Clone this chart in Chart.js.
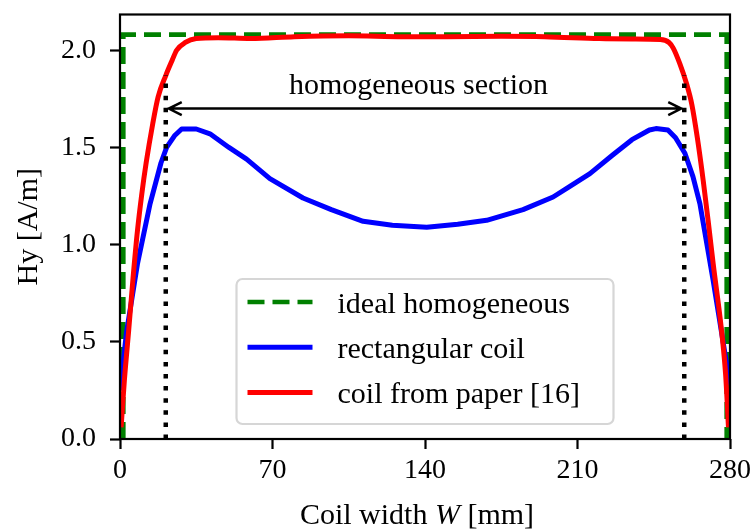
<!DOCTYPE html>
<html>
<head>
<meta charset="utf-8">
<script src="https://cdn.jsdelivr.net/npm/chart.js@4"></script>
<style>
  html, body { margin: 0; padding: 0; background: #fff; }
  #wrap { width: 751px; height: 532px; }
</style>
</head>
<body>
<div id="wrap"><canvas id="fieldChart" width="751" height="532"></canvas></div>
<script>
// values (x in mm, Hy in A/m)
const idealX = [1.5, 1.5, 278.5, 278.5];
const idealY = [0, 2.08, 2.08, 0];

const rectX = [0, 3, 8, 13.8, 18.8, 21.4, 25, 28.3, 35, 41.3, 50, 58.1, 68.8, 84, 97, 111.6, 125, 140.8, 155, 168.3, 185, 198.8, 206.5, 215.7, 226, 235, 243, 246, 251.5, 255, 259.3, 263, 266.2, 272.2, 278.4, 280];
const rectY = [0.25, 0.55, 0.9, 1.21, 1.42, 1.5, 1.56, 1.595, 1.595, 1.57, 1.5, 1.44, 1.34, 1.24, 1.18, 1.12, 1.1, 1.09, 1.105, 1.125, 1.18, 1.245, 1.3, 1.365, 1.46, 1.54, 1.59, 1.597, 1.59, 1.55, 1.47, 1.35, 1.21, 0.82, 0.39, 0.28];

const paperX = [0.5, 2, 4, 6, 8, 10, 12, 15, 17.5, 21, 24, 26, 30, 35, 45, 60, 80, 105, 130, 150, 175, 195, 220, 235, 248, 252, 254, 257, 260, 262.5, 265, 267.7, 270, 272.3, 276.1, 278, 279.3];
const paperY = [0.06, 0.3, 0.56, 0.83, 1.07, 1.26, 1.42, 1.62, 1.76, 1.87, 1.95, 2.0, 2.04, 2.06, 2.065, 2.06, 2.07, 2.075, 2.07, 2.07, 2.072, 2.07, 2.06, 2.058, 2.055, 2.04, 2.01, 1.93, 1.83, 1.72, 1.55, 1.33, 1.12, 0.9, 0.56, 0.33, 0.06];

const sectionEdges = [21, 259];
const sectionTop = 1.87;
const arrowLevel = 1.70;
const sectionLabel = "homogeneous section";
const sectionLabelX = 137;
const sectionLabelY = 1.776;

const xTicks = [0, 70, 140, 210, 280];
const yTicks = [0, 0.5, 1.0, 1.5, 2.0];

const seriesNames = ["ideal homogeneous", "rectangular coil", "coil from paper [16]"];

const FONT = "Liberation Serif";
const TEXT_SIZE = 30;
const toPoints = (xs, ys) => xs.map((x, i) => ({ x: x, y: ys[i] }));

const frameAndNotes = {
    id: "frameAndNotes",
    afterDatasetsDraw(chart) {
        const { ctx, chartArea: area, scales: { x, y } } = chart;
        ctx.save();

        // arrow between the section edges
        const ay = y.getPixelForValue(arrowLevel);
        const x1 = x.getPixelForValue(sectionEdges[0]) + 3;
        const x2 = x.getPixelForValue(sectionEdges[1]) - 3;
        ctx.strokeStyle = "#000";
        ctx.lineWidth = 2.5;
        ctx.lineJoin = "miter";
        ctx.beginPath();
        ctx.moveTo(x1, ay);
        ctx.lineTo(x2, ay);
        ctx.moveTo(x1 + 13, ay - 6.5);
        ctx.lineTo(x1, ay);
        ctx.lineTo(x1 + 13, ay + 6.5);
        ctx.moveTo(x2 - 13, ay - 6.5);
        ctx.lineTo(x2, ay);
        ctx.lineTo(x2 - 13, ay + 6.5);
        ctx.stroke();

        ctx.fillStyle = "#000";
        ctx.font = `${TEXT_SIZE}px "${FONT}"`;
        ctx.textAlign = "center";
        ctx.textBaseline = "alphabetic";
        ctx.fillText(sectionLabel, x.getPixelForValue(sectionLabelX), y.getPixelForValue(sectionLabelY));

        // axes frame
        ctx.lineWidth = 2.2;
        ctx.strokeRect(area.left, area.top, area.right - area.left, area.bottom - area.top);
        ctx.restore();
    },
    afterDraw(chart) {
        const { ctx, chartArea: area } = chart;
        ctx.save();

        // legend, lower center
        const boxW = 377;
        const boxH = 145;
        const left = (area.left + area.right) / 2 - boxW / 2;
        const top = area.bottom - 15 - boxH;
        ctx.fillStyle = "rgba(255,255,255,0.8)";
        ctx.strokeStyle = "#d6d6d6";
        ctx.lineWidth = 2.2;
        ctx.beginPath();
        ctx.roundRect(left, top, boxW, boxH, 6);
        ctx.fill();
        ctx.stroke();

        const datasets = chart.data.datasets;
        ctx.font = `${TEXT_SIZE}px "${FONT}"`;
        ctx.textAlign = "left";
        ctx.textBaseline = "alphabetic";
        seriesNames.forEach((name, i) => {
            const ds = datasets[i];
            const rowY = top + 23 + i * 45.2;
            ctx.strokeStyle = ds.borderColor;
            ctx.lineWidth = ds.borderWidth;
            ctx.setLineDash(ds.borderDash || []);
            ctx.lineCap = "butt";
            ctx.beginPath();
            ctx.moveTo(left + 11, rowY);
            ctx.lineTo(left + 76, rowY);
            ctx.stroke();
            ctx.setLineDash([]);
            ctx.fillStyle = "#000";
            ctx.fillText(name, left + 101, rowY + 11);
        });

        // axis titles
        ctx.fillStyle = "#000";
        const midY = (area.top + area.bottom) / 2;
        ctx.save();
        ctx.translate(37, midY);
        ctx.rotate(-Math.PI / 2);
        ctx.textAlign = "center";
        ctx.fillText("Hy [A/m]", 0, 0);
        ctx.restore();

        const parts = [
            { text: "Coil width ", font: `${TEXT_SIZE}px "${FONT}"` },
            { text: "W", font: `italic ${TEXT_SIZE}px "${FONT}"` },
            { text: " [mm]", font: `${TEXT_SIZE}px "${FONT}"` }
        ];
        let total = 0;
        parts.forEach((p) => {
            ctx.font = p.font;
            p.width = ctx.measureText(p.text).width;
            total += p.width;
        });
        let tx = (area.left + area.right) / 2 - 8 - total / 2;
        parts.forEach((p) => {
            ctx.font = p.font;
            ctx.fillText(p.text, tx, 524);
            tx += p.width;
        });

        ctx.restore();
    }
};

const tickFont = { family: FONT, size: 28 };

new Chart(document.getElementById("fieldChart"), {
    type: "scatter",
    data: {
        datasets: [
            {
                label: seriesNames[0],
                data: toPoints(idealX, idealY),
                showLine: true,
                borderColor: "#008000",
                borderWidth: 4.7,
                borderDash: [17, 8],
                pointRadius: 0,
                order: 4
            },
            {
                label: seriesNames[1],
                data: toPoints(rectX, rectY),
                showLine: true,
                borderColor: "#0000ff",
                borderWidth: 5,
                borderJoinStyle: "round",
                pointRadius: 0,
                order: 3
            },
            {
                label: seriesNames[2],
                data: toPoints(paperX, paperY),
                showLine: true,
                borderColor: "#ff0000",
                borderWidth: 5,
                borderJoinStyle: "round",
                cubicInterpolationMode: "monotone",
                pointRadius: 0,
                order: 2
            },
            ...sectionEdges.map((edge) => ({
                label: "section edge",
                data: [{ x: edge, y: 0 }, { x: edge, y: sectionTop }],
                showLine: true,
                borderColor: "#000",
                borderWidth: 4.5,
                borderDash: [4.5, 7.6],
                pointRadius: 0,
                order: 1
            }))
        ]
    },
    options: {
        responsive: false,
        animation: false,
        devicePixelRatio: 1,
        layout: { padding: { left: 0, top: 14.5, right: 21, bottom: 0 } },
        plugins: {
            legend: { display: false },
            tooltip: { enabled: false }
        },
        scales: {
            x: {
                type: "linear",
                min: 0,
                max: 280,
                afterBuildTicks: (scale) => { scale.ticks = xTicks.map((v) => ({ value: v })); },
                afterFit: (scale) => {
                    scale.height = 93;
                    scale.paddingLeft = 0;
                    scale.paddingRight = 0;
                },
                border: { display: false },
                grid: { drawOnChartArea: false, drawTicks: true, tickLength: 10, tickWidth: 2.2, tickColor: "#000" },
                ticks: { font: tickFont, color: "#000", padding: 5, maxRotation: 0, autoSkip: false, callback: (v) => String(v) }
            },
            y: {
                type: "linear",
                min: 0,
                max: 2.184,
                afterBuildTicks: (scale) => { scale.ticks = yTicks.map((v) => ({ value: v })); },
                afterFit: (scale) => {
                    scale.width = 120;
                    scale.paddingTop = 0;
                    scale.paddingBottom = 0;
                },
                border: { display: false },
                grid: { drawOnChartArea: false, drawTicks: true, tickLength: 10, tickWidth: 2.2, tickColor: "#000" },
                ticks: { font: tickFont, color: "#000", padding: 14, autoSkip: false, callback: (v) => v.toFixed(1) }
            }
        }
    },
    plugins: [frameAndNotes]
});
</script>
</body>
</html>
